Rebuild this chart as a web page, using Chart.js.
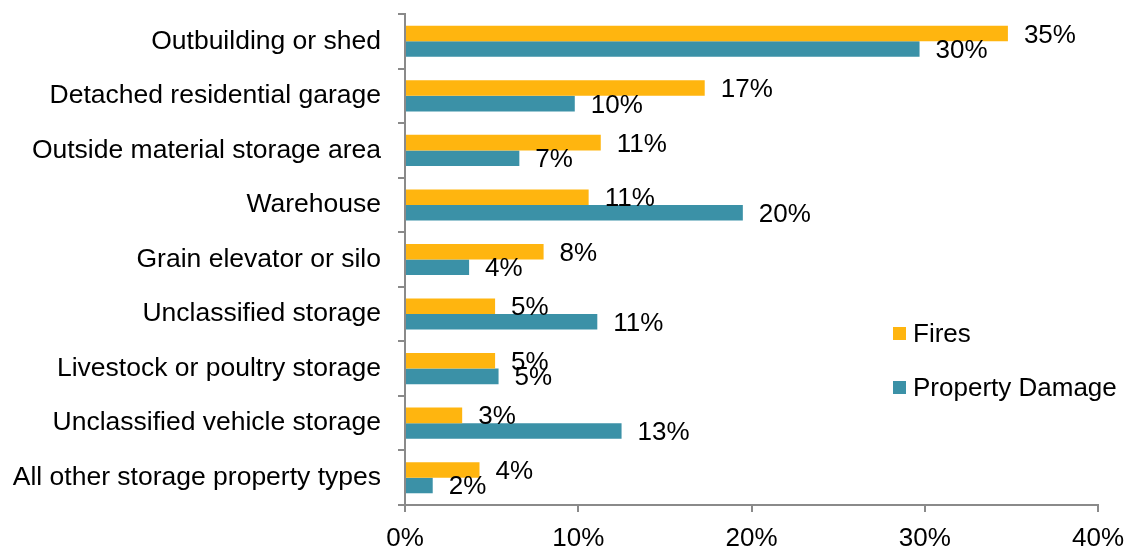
<!DOCTYPE html>
<html>
<head>
<meta charset="utf-8">
<script src="https://cdn.jsdelivr.net/npm/chart.js@4.4.1/dist/chart.umd.min.js"></script>
<style>
  html, body { margin: 0; padding: 0; background: #fff; }
  #wrap { width: 1125px; height: 548px; position: relative; }
</style>
</head>
<body>
<div id="wrap"><canvas id="storageChart"></canvas></div>
<script>
// storage property types, top to bottom
const categories = [
    'Outbuilding or shed',
    'Detached residential garage',
    'Outside material storage area',
    'Warehouse',
    'Grain elevator or silo',
    'Unclassified storage',
    'Livestock or poultry storage',
    'Unclassified vehicle storage',
    'All other storage property types'
];

// share of fires and of direct property damage, in percent
const firesPct = [34.8, 17.3, 11.3, 10.6, 8.0, 5.2, 5.2, 3.3, 4.3];
const damagePct = [29.7, 9.8, 6.6, 19.5, 3.7, 11.1, 5.4, 12.5, 1.6];

const xTicks = [0, 10, 20, 30, 40];

const FONT = '"Liberation Sans", Arial, sans-serif';
const AXIS_GRAY = '#8a8a8a';
const FIRES_COLOR = '#FFB50F';
const DAMAGE_COLOR = '#3B91A7';

// value labels at the end of each bar
const barLabels = {
    id: 'barLabels',
    afterDatasetsDraw(chart) {
        const ctx = chart.ctx;
        ctx.save();
        ctx.font = '26px ' + FONT;
        ctx.fillStyle = '#000';
        ctx.textAlign = 'left';
        ctx.textBaseline = 'alphabetic';
        chart.data.datasets.forEach((ds, i) => {
            const meta = chart.getDatasetMeta(i);
            meta.data.forEach((bar, j) => {
                const txt = Math.round(ds.data[j]) + '%';
                ctx.fillText(txt, bar.x + 16, bar.y + 9);
            });
        });
        ctx.restore();
    }
};

// legend sits inside the plot on the right
const sideLegend = {
    id: 'sideLegend',
    afterDraw(chart) {
        const ctx = chart.ctx;
        const items = chart.data.datasets;
        ctx.save();
        ctx.font = '26px ' + FONT;
        ctx.textBaseline = 'alphabetic';
        items.forEach((ds, i) => {
            const y = 333 + i * 54;
            ctx.fillStyle = ds.backgroundColor;
            ctx.fillRect(893, y - 6, 13, 13);
            ctx.fillStyle = '#000';
            ctx.fillText(ds.label, 913, y + 9);
        });
        ctx.restore();
    }
};

new Chart(document.getElementById('storageChart'), {
    type: 'bar',
    data: {
        labels: categories,
        datasets: [
            { label: 'Fires', data: firesPct, backgroundColor: FIRES_COLOR },
            { label: 'Property Damage', data: damagePct, backgroundColor: DAMAGE_COLOR }
        ]
    },
    options: {
        indexAxis: 'y',
        responsive: true,
        maintainAspectRatio: false,
        animation: false,
        categoryPercentage: 0.57,
        barPercentage: 1.0,
        layout: { padding: { top: 14, right: 27, left: 0, bottom: 0 } },
        plugins: {
            legend: { display: false },
            tooltip: { enabled: false }
        },
        scales: {
            x: {
                min: 0,
                max: 40,
                afterBuildTicks: axis => { axis.ticks = xTicks.map(v => ({ value: v })); },
                afterFit: axis => {
                    axis.height = 43;
                    axis.paddingLeft = 0;
                    axis.paddingRight = 0;
                },
                ticks: {
                    callback: v => v + '%',
                    color: '#000',
                    font: { family: FONT, size: 26 },
                    padding: 11,
                    maxRotation: 0
                },
                grid: { drawOnChartArea: false, drawTicks: true, tickLength: 7, color: AXIS_GRAY, lineWidth: 2 },
                border: { color: AXIS_GRAY, width: 2 }
            },
            y: {
                afterFit: axis => {
                    axis.width = 405;
                    axis.paddingTop = 0;
                    axis.paddingBottom = 0;
                },
                ticks: {
                    color: '#000',
                    font: { family: FONT, size: 26.5 },
                    padding: 17
                },
                grid: { drawOnChartArea: false, drawTicks: true, tickLength: 7, color: AXIS_GRAY, lineWidth: 2, offset: true },
                border: { color: AXIS_GRAY, width: 2 }
            }
        }
    },
    plugins: [barLabels, sideLegend]
});
</script>
</body>
</html>
